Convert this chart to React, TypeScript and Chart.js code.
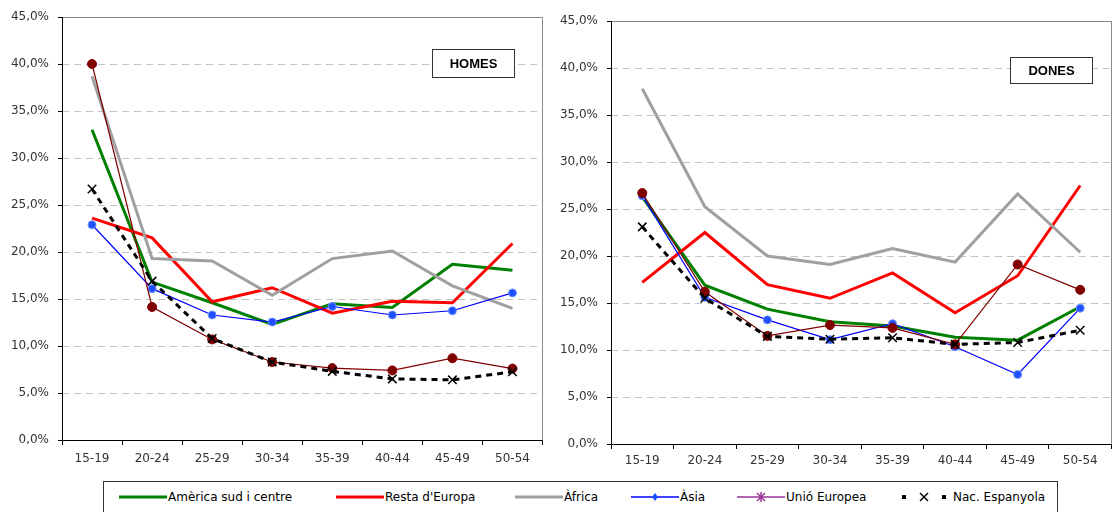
import React, { useEffect, useRef } from 'react';
import { Chart, registerables } from 'chart.js';

Chart.register(...registerables);

// ---------- data ----------
const categories = ['15-19', '20-24', '25-29', '30-34', '35-39', '40-44', '45-49', '50-54'];
const seriesNames = ['Amèrica sud i centre', "Resta d'Europa", 'Àfrica', 'Àsia', 'Unió Europea', 'Nac. Espanyola'];

const homesAmerica = [33.0, 16.8, 14.6, 12.3, 14.5, 14.1, 18.7, 18.05];
const homesRestaEuropa = [23.6, 21.5, 14.7, 16.2, 13.5, 14.75, 14.6, 20.9];
const homesAfrica = [38.7, 19.3, 19.05, 15.4, 19.3, 20.1, 16.4, 14.0];
const homesAsia = [22.9, 16.1, 13.3, 12.55, 14.2, 13.3, 13.75, 15.65];
const homesUE = [40.0, 14.15, 10.7, 8.3, 7.65, 7.4, 8.7, 7.6];
const homesEspanyola = [26.7, 16.9, 10.8, 8.3, 7.3, 6.5, 6.4, 7.25];

const donesAmerica = [26.3, 16.9, 14.35, 13.0, 12.55, 11.35, 11.05, 14.6];
const donesRestaEuropa = [17.2, 22.5, 16.95, 15.5, 18.2, 13.97, 17.9, 27.5];
const donesAfrica = [37.8, 25.25, 20.0, 19.1, 20.8, 19.35, 26.6, 20.4];
const donesAsia = [26.4, 15.6, 13.2, 11.1, 12.8, 10.35, 7.4, 14.45];
const donesUE = [26.7, 16.2, 11.5, 12.65, 12.35, 10.6, 19.1, 16.4];
const donesEspanyola = [23.1, 15.5, 11.45, 11.15, 11.3, 10.6, 10.8, 12.1];

const yMin = 0;
const yMax = 45;
const yStep = 5;

const homesSeries = [homesAmerica, homesRestaEuropa, homesAfrica, homesAsia, homesUE, homesEspanyola];
const donesSeries = [donesAmerica, donesRestaEuropa, donesAfrica, donesAsia, donesUE, donesEspanyola];

// ---------- styles ----------
const FONT = "'DejaVu Sans', Verdana, sans-serif";

const seriesStyles: any[] = [
  { borderColor: '#008000', borderWidth: 3, pointRadius: 0 },
  { borderColor: '#ff0000', borderWidth: 3, pointRadius: 0 },
  { borderColor: '#a0a0a0', borderWidth: 3, pointRadius: 0 },
  {
    borderColor: '#0000ff', borderWidth: 1.2, pointRadius: 4, pointStyle: 'circle',
    pointBackgroundColor: '#1f4fff', pointBorderColor: '#6f94ff', pointBorderWidth: 1,
  },
  {
    borderColor: '#800000', borderWidth: 1.2, pointRadius: 4.5, pointStyle: 'circle',
    pointBackgroundColor: '#800000', pointBorderColor: '#800000', pointBorderWidth: 1,
  },
  {
    borderColor: '#000000', borderWidth: 3, borderDash: [6, 5], pointRadius: 6, pointStyle: 'crossRot',
    pointBackgroundColor: '#000000', pointBorderColor: '#000000', pointBorderWidth: 1.5,
  },
];

function makeDatasets(values: number[][]) {
  return values.map((data, i) => ({
    label: seriesNames[i],
    data,
    tension: 0,
    fill: false,
    order: values.length - i,
    ...seriesStyles[i],
  }));
}

function framePlugin(title: string, box: { x: number; y: number; w: number; h: number }) {
  return {
    id: 'frameAndTitle',
    beforeDatasetsDraw(chart: any) {
      const { ctx, chartArea } = chart;
      const { left, right, top, bottom } = chartArea;
      ctx.save();
      ctx.setLineDash([]);
      ctx.lineWidth = 1;
      ctx.strokeStyle = '#8a8a8a';
      ctx.beginPath();
      ctx.moveTo(left, Math.round(top) + 0.5);
      ctx.lineTo(right, Math.round(top) + 0.5);
      ctx.moveTo(Math.round(right) - 0.5, top);
      ctx.lineTo(Math.round(right) - 0.5, bottom);
      ctx.stroke();
      ctx.strokeStyle = '#000000';
      ctx.beginPath();
      ctx.moveTo(Math.round(left) + 0.5, top);
      ctx.lineTo(Math.round(left) + 0.5, Math.round(bottom) + 0.5);
      ctx.lineTo(right, Math.round(bottom) + 0.5);
      ctx.stroke();
      // title box
      ctx.fillStyle = '#ffffff';
      ctx.fillRect(box.x, box.y, box.w, box.h);
      ctx.strokeStyle = '#333333';
      ctx.strokeRect(box.x + 0.5, box.y + 0.5, box.w, box.h);
      ctx.fillStyle = '#000000';
      ctx.font = "bold 13px 'Liberation Sans', Arial, sans-serif";
      ctx.textAlign = 'center';
      ctx.textBaseline = 'middle';
      ctx.fillText(title, box.x + box.w / 2 + 0.5, box.y + box.h / 2 + 1);
      ctx.restore();
    },
  };
}

type ChartProps = {
  title: string;
  series: number[][];
  left: number;
  width: number;
  height: number;
  yAxisW: number;
  xAxisH: number;
  padTop: number;
  padRight: number;
  xTickPad: number;
  box: { x: number; y: number; w: number; h: number };
};

function LineChart(props: ChartProps) {
  const ref = useRef<HTMLCanvasElement>(null);
  useEffect(() => {
    const canvas = ref.current;
    if (!canvas) return;
    const chart = new Chart(canvas, {
      type: 'line',
      data: { labels: categories, datasets: makeDatasets(props.series) as any },
      options: {
        responsive: false,
        animation: false,
        devicePixelRatio: 1,
        layout: { padding: { top: props.padTop, right: props.padRight, left: 0, bottom: 0 } },
        plugins: { legend: { display: false }, tooltip: { enabled: false } },
        scales: {
          x: {
            type: 'category',
            offset: true,
            grid: {
              offset: true, drawOnChartArea: false, drawTicks: true, tickLength: 5,
              tickColor: '#000000', tickWidth: 1,
            },
            border: { display: false },
            ticks: {
              padding: props.xTickPad, color: '#333333', font: { family: FONT, size: 12 },
              maxRotation: 0, autoSkip: false,
            },
            afterFit: (s: any) => { s.height = props.xAxisH; },
          },
          y: {
            min: yMin,
            max: yMax,
            grid: {
              color: '#c4c4c4', lineWidth: 1, drawTicks: true, tickLength: 4,
              tickColor: '#000000', tickWidth: 1, tickBorderDash: [],
            },
            border: { display: false, dash: [7, 5] },
            ticks: {
              stepSize: yStep, padding: 9, color: '#333333', font: { family: FONT, size: 12 },
              callback: (v: any) => Number(v).toFixed(1).replace('.', ',') + '%',
            },
            afterFit: (s: any) => { s.width = props.yAxisW; },
          },
        },
      } as any,
      plugins: [framePlugin(props.title, props.box)],
    });
    return () => chart.destroy();
  }, []);
  return (
    <canvas
      ref={ref}
      width={props.width}
      height={props.height}
      style={{ position: 'absolute', left: props.left, top: 0, width: props.width, height: props.height }}
    />
  );
}

// ---------- legend ----------
function Sample({ kind }: { kind: number }) {
  const w = 48;
  const h = 14;
  const c = seriesStyles[kind];
  if (kind <= 2) {
    return (
      <svg width={w} height={h}>
        <line x1={0} y1={7} x2={w} y2={7} stroke={c.borderColor} strokeWidth={3} />
      </svg>
    );
  }
  if (kind === 3) {
    return (
      <svg width={w} height={h}>
        <line x1={0} y1={7} x2={w} y2={7} stroke="#0000ff" strokeWidth={1.5} />
        <polygon points="24,3 27,7 24,11 21,7" fill="#1f4fff" />
      </svg>
    );
  }
  if (kind === 4) {
    return (
      <svg width={w} height={h}>
        <line x1={0} y1={7} x2={w} y2={7} stroke="#993399" strokeWidth={1.5} />
        <g stroke="#993399" strokeWidth={1.5}>
          <line x1={20} y1={3} x2={28} y2={11} />
          <line x1={28} y1={3} x2={20} y2={11} />
          <line x1={24} y1={2} x2={24} y2={12} />
        </g>
      </svg>
    );
  }
  return (
    <svg width={w} height={h}>
      <rect x={2} y={5} width={4} height={4} fill="#000" />
      <rect x={42} y={5} width={4} height={4} fill="#000" />
      <g stroke="#000" strokeWidth={1.5}>
        <line x1={20} y1={3} x2={28} y2={11} />
        <line x1={28} y1={3} x2={20} y2={11} />
      </g>
    </svg>
  );
}

const legendSampleX = [119, 336, 515, 631, 737, 900];
const legendTextGap = [1, 1, 1, 1, 1, 5];

function Legend() {
  return (
    <>
      <div
        style={{
          position: 'absolute', left: 103, top: 481, width: 955, height: 40,
          border: '1px solid #333', boxSizing: 'border-box', background: '#fff',
        }}
      />
      {seriesNames.map((name, i) => (
        <div
          key={name}
          style={{
            position: 'absolute', left: legendSampleX[i], top: 490, height: 14,
            display: 'flex', alignItems: 'center', whiteSpace: 'nowrap',
            font: `12px ${FONT}`, color: '#000',
          }}
        >
          <Sample kind={i} />
          <span style={{ marginLeft: legendTextGap[i], lineHeight: '14px' }}>{name}</span>
        </div>
      ))}
    </>
  );
}

export default function App() {
  return (
    <div
      style={{
        position: 'fixed', left: 0, top: 0, width: 1119, height: 512,
        overflow: 'hidden', background: '#ffffff',
      }}
    >
      <LineChart
        title="HOMES"
        series={homesSeries}
        left={0}
        width={550}
        height={470}
        yAxisW={62}
        xAxisH={30}
        padTop={17}
        padRight={7}
        xTickPad={7}
        box={{ x: 432, y: 49, w: 82, h: 28 }}
      />
      <LineChart
        title="DONES"
        series={donesSeries}
        left={560}
        width={559}
        height={470}
        yAxisW={51}
        xAxisH={26}
        padTop={21}
        padRight={0}
        xTickPad={5}
        box={{ x: 450, y: 57, w: 82, h: 26 }}
      />
      <Legend />
    </div>
  );
}
